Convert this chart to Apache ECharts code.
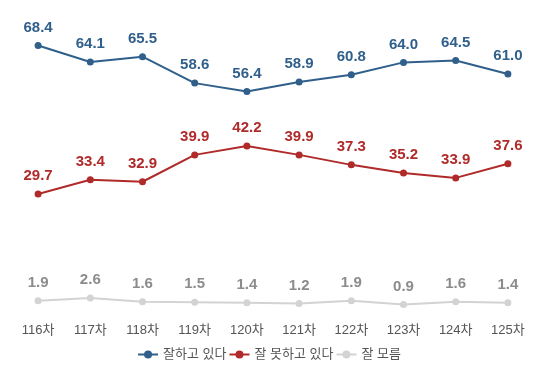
<!DOCTYPE html>
<html><head><meta charset="utf-8">
<script src="https://cdn.jsdelivr.net/npm/echarts@6/dist/echarts.min.js"></script>
<style>html,body{margin:0;padding:0;background:#fff}#c{width:538px;height:369px}</style>
</head><body><div id="c"></div>
<script>
const categories = ['116차','117차','118차','119차','120차','121차','122차','123차','124차','125차'];
const seriesNames = ['잘하고 있다','잘 못하고 있다','잘 모름'];
const good = [68.4, 64.1, 65.5, 58.6, 56.4, 58.9, 60.8, 64.0, 64.5, 61.0];
const bad = [29.7, 33.4, 32.9, 39.9, 42.2, 39.9, 37.3, 35.2, 33.9, 37.6];
const unknown = [1.9, 2.6, 1.6, 1.5, 1.4, 1.2, 1.9, 0.9, 1.6, 1.4];
const colors = ['#2F5F8A', '#B02A2A', '#D3D3D3'];
const labelColors = ['#2F5F8A', '#B02A2A', '#8C8C8C'];
const font = 'Arial, "Liberation Sans", "Noto Sans CJK KR", sans-serif';
const chart = echarts.init(document.getElementById('c'));
const datas = [good, bad, unknown];
chart.setOption({
  animation: false,
  color: colors,
  grid: {left: 12, right: 4, top: 1, bottom: 61},
  legend: {
    bottom: 3, left: 'center', itemWidth: 20, itemHeight: 10, itemGap: 2,
    textStyle: {color: '#555', fontSize: 13, fontFamily: font},
    data: seriesNames
  },
  xAxis: {
    type: 'category', data: categories, boundaryGap: true,
    axisLine: {show: false}, axisTick: {show: false},
    axisLabel: {color: '#555', fontSize: 13, margin: 16, fontFamily: font}
  },
  yAxis: {type: 'value', min: 0, max: 80, show: false, splitLine: {show: false}},
  series: datas.map((d, i) => ({
    name: seriesNames[i], type: 'line', data: d,
    symbol: 'circle', symbolSize: 7,
    lineStyle: {width: 2, color: colors[i]},
    itemStyle: {color: colors[i]},
    label: {show: true, position: 'top', distance: 7, color: labelColors[i],
      fontSize: 15, fontWeight: 'bold', fontFamily: font,
      formatter: p => p.value.toFixed(1)}
  }))
});
</script></body></html>
